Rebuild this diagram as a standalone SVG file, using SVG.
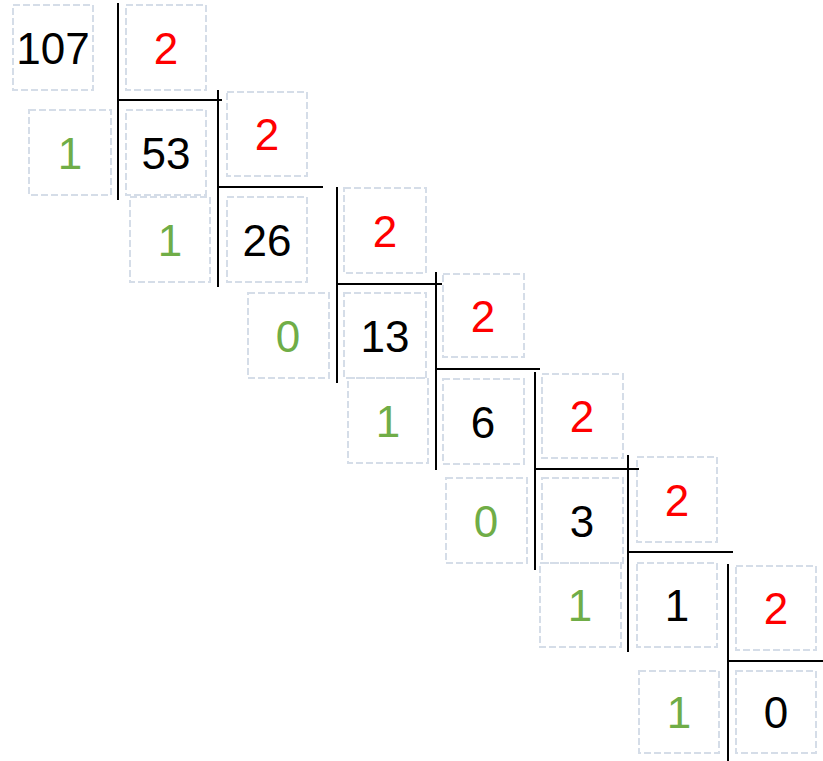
<svg xmlns="http://www.w3.org/2000/svg" width="823" height="761" viewBox="0 0 823 761">
<style>
.b{fill:none;stroke:#D5DDE8;stroke-width:2;stroke-dasharray:7 3}
.t{font-family:"Liberation Sans",Arial,sans-serif;font-size:44px;text-anchor:middle}
.k{fill:#000}.r{fill:#FF0000}.g{fill:#70AD47}
.ln{stroke:#000;stroke-width:2;fill:none}
</style>
<rect width="823" height="761" fill="#fff"/>
<g id="connectors">
<path class="ln" d="M118 3V200M118 100H222"/>
<path class="ln" d="M218 90V287M218 187H323"/>
<path class="ln" d="M337 187V383M337 284H442"/>
<path class="ln" d="M436 272V470M436 369H540"/>
<path class="ln" d="M535 372V570M535 469H639"/>
<path class="ln" d="M628 455V652M628 552H733"/>
<path class="ln" d="M728 564V761M728 661H823"/>
</g>
<g id="n107"><rect class="b" x="13" y="5" width="80" height="85"/><text class="t k" x="53" y="64">107</text></g>
<g id="d0"><rect class="b" x="126" y="5" width="80" height="85"/><text class="t r" x="166" y="64">2</text></g>
<g id="r0"><rect class="b" x="29" y="110" width="82" height="85"/><text class="t g" x="70" y="169">1</text></g>
<g id="q53"><rect class="b" x="126" y="110" width="80" height="85"/><text class="t k" x="166" y="169">53</text></g>
<g id="d1"><rect class="b" x="227" y="92" width="80" height="84"/><text class="t r" x="267" y="150">2</text></g>
<g id="r1"><rect class="b" x="130" y="197" width="80" height="85"/><text class="t g" x="170" y="256">1</text></g>
<g id="q26"><rect class="b" x="227" y="197" width="80" height="85"/><text class="t k" x="267" y="256">26</text></g>
<g id="d2"><rect class="b" x="344" y="188" width="82" height="85"/><text class="t r" x="385" y="247">2</text></g>
<g id="r2"><rect class="b" x="248" y="293" width="81" height="85"/><text class="t g" x="288" y="352">0</text></g>
<g id="q13"><rect class="b" x="344" y="293" width="82" height="85"/><text class="t k" x="385" y="352">13</text></g>
<g id="d3"><rect class="b" x="443" y="274" width="81" height="83"/><text class="t r" x="483" y="332">2</text></g>
<g id="r3"><rect class="b" x="348" y="378" width="80" height="85"/><text class="t g" x="388" y="437">1</text></g>
<g id="q6"><rect class="b" x="443" y="379" width="81" height="85"/><text class="t k" x="483" y="438">6</text></g>
<g id="d4"><rect class="b" x="542" y="374" width="81" height="84"/><text class="t r" x="582" y="432">2</text></g>
<g id="r4"><rect class="b" x="446" y="478" width="81" height="85"/><text class="t g" x="486" y="537">0</text></g>
<g id="q3"><rect class="b" x="542" y="478" width="81" height="85"/><text class="t k" x="582" y="537">3</text></g>
<g id="d5"><rect class="b" x="637" y="457" width="80" height="85"/><text class="t r" x="677" y="516">2</text></g>
<g id="r5"><rect class="b" x="540" y="563" width="81" height="84"/><text class="t g" x="580" y="621">1</text></g>
<g id="q1"><rect class="b" x="637" y="563" width="80" height="84"/><text class="t k" x="677" y="621">1</text></g>
<g id="d6"><rect class="b" x="736" y="566" width="80" height="84"/><text class="t r" x="776" y="624">2</text></g>
<g id="r6"><rect class="b" x="639" y="671" width="80" height="82"/><text class="t g" x="679" y="728">1</text></g>
<g id="q0"><rect class="b" x="736" y="671" width="80" height="82"/><text class="t k" x="776" y="728">0</text></g>
</svg>
